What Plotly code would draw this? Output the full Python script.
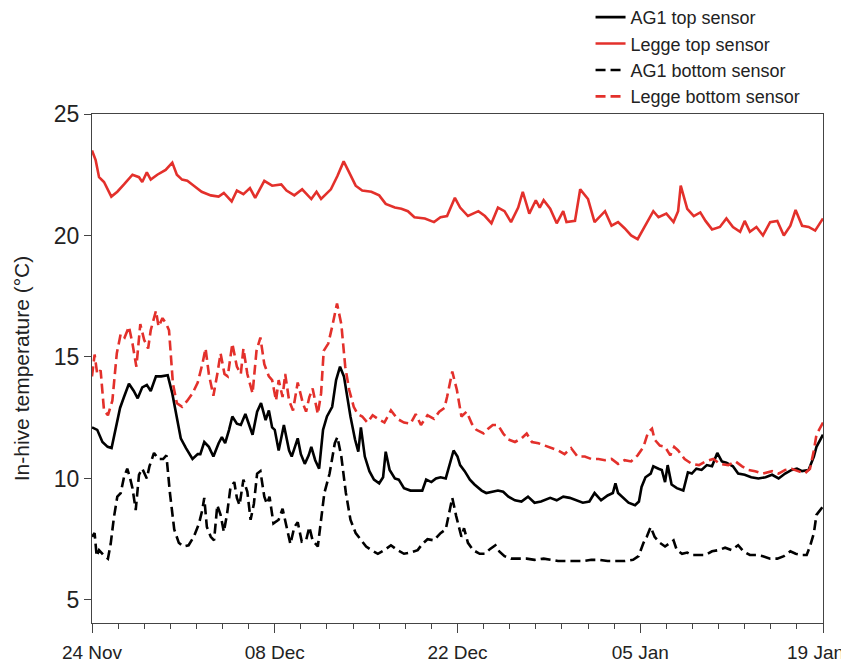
import pandas as pd
import plotly.graph_objects as go

START = "2013-11-24"

# Legge top sensor (red solid)
legge_top_day = [0, 0.28, 0.54, 0.92, 1.48, 1.94, 2.45, 3.1, 3.6, 3.85, 4.2, 4.5, 5.0, 5.64, 6.15, 6.5, 6.9, 7.3, 7.8, 8.4, 9.1, 9.7, 10.1, 10.7, 11.1, 11.6, 12.1, 12.5, 13.2, 13.8,
                 14.5, 14.9, 15.5, 16.1, 16.8, 17.2, 17.55, 18.3, 18.8, 19.28, 19.7, 20.2, 20.7, 21.4, 22.0, 22.5, 23.2, 23.7, 24.2, 24.7, 25.5, 26.2, 26.7, 27.2, 27.8,
                 28.2, 28.8, 29.6, 30.1, 30.6, 31.1, 31.6, 32.1, 32.65, 33.0, 33.5, 34.0, 34.3, 34.6, 35.1, 35.6, 36.1, 36.35, 37.0, 37.4, 38.0, 38.5, 39.3, 39.8, 40.3, 40.8, 41.3, 41.8,
                 42.4, 43.0, 43.4, 44.0, 44.55, 44.9, 45.1, 45.6, 46.1, 46.6, 47.0, 47.5, 48.1, 48.6, 49.1, 49.65, 50.0, 50.4, 50.9, 51.4, 51.95, 52.5, 53.0, 53.5, 53.9, 54.4, 54.9, 55.4, 56.0]
legge_top_val = [23.5, 23.1, 22.4, 22.2, 21.6, 21.8, 22.1, 22.5, 22.4, 22.2, 22.6, 22.3, 22.5, 22.7, 23.0, 22.5, 22.3, 22.25, 22.05, 21.8, 21.65, 21.6, 21.75, 21.4, 21.85, 21.7, 21.95, 21.55, 22.25, 22.05,
                 22.1, 21.85, 21.65, 21.9, 21.5, 21.8, 21.5, 21.9, 22.45, 23.05, 22.6, 22.05, 21.85, 21.8, 21.65, 21.3, 21.15, 21.1, 21.0, 20.75, 20.7, 20.55, 20.75, 20.8, 21.55,
                 21.15, 20.8, 21.0, 20.8, 20.5, 21.15, 21.0, 20.55, 21.15, 21.8, 20.9, 21.45, 21.15, 21.45, 21.1, 20.5, 21.0, 20.55, 20.6, 21.9, 21.5, 20.55, 21.0, 20.4, 20.55, 20.3, 20.0, 19.85,
                 20.4, 21.0, 20.75, 20.9, 20.55, 21.0, 22.05, 21.1, 20.8, 20.95, 20.6, 20.25, 20.35, 20.7, 20.35, 20.15, 20.6, 20.15, 20.35, 20.0, 20.55, 20.6, 20.0, 20.4, 21.05, 20.4, 20.35, 20.2, 20.7]

# Legge bottom sensor (red dashed)
legge_bot_day = [0, 0.2, 0.4, 0.66, 0.92, 1.22, 1.56, 1.9, 2.2, 2.5, 2.83, 3.1, 3.4, 3.7, 4.0, 4.3, 4.5, 4.9, 5.1, 5.4, 5.7, 5.9, 6.2, 6.5, 6.9, 7.3, 7.7, 8.1, 8.45, 8.7, 8.95, 9.3, 9.6, 9.85, 10.15, 10.4, 10.75, 11.1, 11.4, 11.6, 11.9, 12.3, 12.6, 12.9, 13.2, 13.55, 13.8,
                 14.1, 14.3, 14.6, 14.8, 15.1, 15.4, 15.76, 16.15, 16.4, 16.65, 16.9, 17.3, 17.55, 17.75, 18.1, 18.4, 18.77, 19.1, 19.4, 19.7, 20.05, 20.35, 20.7, 21.1, 21.5, 21.9, 22.4, 22.9, 23.4, 23.9, 24.4, 24.8, 25.2, 25.7, 26.2, 26.6, 27.0, 27.2, 27.6, 27.95,
                 28.3, 28.7, 29.1, 29.45, 30.0, 30.35, 30.7, 31.1, 31.5, 31.9, 32.4, 32.9, 33.3, 33.7, 34.2, 34.7, 35.2, 35.7, 36.2, 36.7, 37.2, 37.75, 38.25, 38.8, 39.3, 39.8, 40.3, 40.8, 41.3, 41.8,
                 42.25, 42.6, 42.9, 43.1, 43.5, 43.9, 44.3, 44.6, 44.9, 45.4, 45.95, 46.5, 47.0, 47.6, 48.1, 48.75, 49.3, 49.8, 50.3, 50.8, 51.4, 52.1, 52.6, 53.1, 53.6, 54.1, 54.6, 55.0, 55.3, 55.5, 56.0]
legge_bot_val = [14.2, 15.1, 14.3, 14.45, 12.8, 12.6, 13.2, 15.15, 15.95, 15.8, 16.25, 15.55, 14.6, 16.35, 15.7, 15.35, 16.1, 16.9, 16.25, 16.6, 16.35, 16.1, 13.9, 13.1, 12.95, 13.2, 13.5, 13.95, 14.7, 15.35, 14.3, 13.4, 14.3, 15.15, 14.3, 14.2, 15.55, 14.6, 14.3, 15.35, 14.3, 13.5, 15.25, 15.8, 14.7, 14.2, 14.05,
                 13.2, 14.05, 13.35, 14.3, 13.2, 12.8, 13.95, 13.1, 12.75, 13.35, 13.7, 12.65, 13.5, 15.25, 15.55, 16.25, 17.2, 16.35, 14.6, 13.65, 12.95, 12.65, 12.55, 12.3, 12.6, 12.45, 12.3, 12.8, 12.45, 12.3, 12.25, 12.65, 12.2, 12.6, 12.45, 12.75, 12.9, 13.35, 14.4, 13.65,
                 12.55, 12.75, 12.25, 12.0, 11.85, 12.05, 12.2, 12.2, 11.85, 11.6, 11.5, 11.65, 11.85, 11.5, 11.45, 11.35, 11.25, 11.15, 11.0, 11.25, 10.9, 10.9, 10.8, 10.8, 10.75, 10.8, 10.6, 10.75, 10.7, 10.95,
                 11.3, 11.9, 12.05, 11.6, 11.35, 11.3, 10.95, 11.3, 11.15, 10.8, 10.6, 10.55, 10.7, 10.8, 10.6, 10.55, 10.7, 10.5, 10.35, 10.3, 10.2, 10.3, 10.2, 10.35, 10.4, 10.3, 10.2, 10.4, 11.15, 11.8, 12.3]

# AG1 top sensor (black solid)
ag1_top_day = [0, 0.4, 0.8, 1.2, 1.5, 1.8, 2.15, 2.45, 2.83, 3.2, 3.5, 3.85, 4.2, 4.5, 4.9, 5.3, 5.8, 6.15, 6.5, 6.8, 7.2, 7.7, 8.1, 8.3, 8.6, 8.95, 9.3, 9.7, 9.95, 10.2, 10.5, 10.75, 11.1, 11.4, 11.75, 12.0, 12.3, 12.65, 12.95, 13.3, 13.55, 13.8,
               14.0, 14.3, 14.7, 15.1, 15.3, 15.76, 16.0, 16.3, 16.6, 16.8, 17.1, 17.4, 17.7, 18.0, 18.4, 18.7, 19.0, 19.3, 19.5, 19.8, 20.15, 20.4, 20.6, 20.9, 21.25, 21.6, 22.0, 22.3, 22.5, 22.8, 23.2, 23.5, 23.9, 24.4, 24.95, 25.3, 25.6, 26.0, 26.35, 26.7, 27.1, 27.4, 27.7, 28.0,
               28.2, 28.55, 28.95, 29.3, 29.85, 30.2, 30.6, 31.1, 31.5, 31.9, 32.4, 32.9, 33.4, 33.9, 34.4, 35.1, 35.6, 36.1, 36.6, 37.1, 37.6, 38.1, 38.5, 39.0, 39.5, 39.9, 40.1, 40.3, 40.7, 41.1, 41.6,
               41.9, 42.1, 42.4, 42.8, 43.0, 43.4, 43.65, 43.9, 44.1, 44.4, 44.8, 45.3, 45.65, 45.95, 46.3, 46.7, 47.1, 47.5, 47.9, 48.25, 48.6, 49.1, 49.5, 50.0, 50.5, 51.05, 51.6, 52.1, 52.6, 53.1, 53.6, 54.0, 54.4, 54.9, 55.3, 55.5, 56.0]
ag1_top_val = [12.1, 12.0, 11.5, 11.3, 11.25, 12.0, 12.9, 13.35, 13.9, 13.6, 13.3, 13.75, 13.85, 13.6, 14.2, 14.2, 14.25, 13.5, 12.55, 11.65, 11.25, 10.8, 11.0, 11.0, 11.5, 11.3, 10.9, 11.45, 11.7, 11.45, 12.0, 12.55, 12.25, 12.2, 12.65, 12.25, 11.8, 12.75, 13.1, 12.4, 12.8, 12.1,
               12.0, 11.15, 12.2, 11.15, 10.9, 11.65, 11.0, 10.6, 10.95, 11.3, 10.75, 10.4, 12.0, 12.55, 12.95, 14.05, 14.6, 14.2, 13.5, 12.55, 11.6, 11.1, 12.1, 10.9, 10.3, 9.95, 9.8, 10.05, 11.1, 10.35, 10.0, 9.95, 9.6, 9.5, 9.5, 9.5, 9.95, 9.85, 10.0, 10.05, 10.0, 10.6, 11.15, 10.9,
               10.55, 10.3, 9.95, 9.75, 9.5, 9.4, 9.45, 9.5, 9.45, 9.25, 9.1, 9.05, 9.25, 9.0, 9.05, 9.2, 9.1, 9.25, 9.2, 9.1, 9.0, 9.05, 9.4, 9.1, 9.3, 9.4, 9.8, 9.4, 9.2, 9.0, 8.9,
               9.05, 9.65, 10.05, 10.2, 10.5, 10.4, 10.35, 9.85, 10.55, 9.75, 9.6, 9.5, 10.25, 10.2, 10.4, 10.35, 10.55, 10.5, 11.05, 10.7, 10.65, 10.5, 10.2, 10.15, 10.05, 10.0, 10.05, 10.15, 10.0, 10.2, 10.35, 10.4, 10.3, 10.35, 10.9, 11.3, 11.8]

# AG1 bottom sensor (black dashed)
ag1_bot_day = [0, 0.2, 0.36, 0.54, 0.87, 1.22, 1.43, 1.68, 1.94, 2.2, 2.45, 2.7, 2.9, 3.1, 3.35, 3.6, 3.85, 4.2, 4.4, 4.75, 5.1, 5.45, 5.7, 5.97, 6.3, 6.65, 7.0, 7.4, 7.8, 8.2, 8.45, 8.6, 8.8, 9.1, 9.35, 9.6, 9.85, 10.1, 10.35, 10.6, 10.9, 11.1, 11.3, 11.6, 11.9, 12.15, 12.4, 12.65, 12.9, 13.2, 13.4, 13.6, 13.9,
               14.3, 14.6, 14.9, 15.2, 15.5, 15.76, 16.07, 16.4, 16.65, 16.9, 17.3, 17.55, 17.8, 18.2, 18.6, 18.8, 19.1, 19.45, 19.8, 20.2, 20.6, 21.0, 21.4, 21.9, 22.4, 22.9, 23.4, 23.9, 24.4, 24.95, 25.3, 25.7, 26.2, 26.7, 27.1, 27.4, 27.6, 27.9,
               28.05, 28.3, 28.5, 28.8, 29.2, 29.7, 30.1, 30.5, 30.9, 31.2, 31.6, 32.1, 32.65, 33.3, 33.9, 34.6, 35.2, 35.7, 36.35, 37.0, 37.6, 38.25, 38.9, 39.5, 40.2, 40.8, 41.45, 41.87,
               42.25, 42.5, 42.8, 43.1, 43.5, 43.9, 44.3, 44.55, 44.8, 45.2, 45.6, 45.95, 46.5, 47.0, 47.5, 48.0, 48.5, 49.0, 49.5, 49.9, 50.4, 50.9, 51.4, 51.95, 52.5, 53.0, 53.5, 53.9, 54.4, 54.75, 55.0, 55.3, 55.5, 56.0]
ag1_bot_val = [7.6, 7.75, 6.8, 7.05, 6.85, 6.7, 7.3, 8.4, 9.25, 9.4, 10.05, 10.4, 10.05, 9.6, 8.7, 10.15, 10.4, 10.0, 10.5, 11.05, 10.8, 10.8, 10.95, 9.4, 7.9, 7.35, 7.2, 7.25, 7.6, 8.15, 8.7, 9.2, 8.0, 7.6, 7.45, 8.9, 8.5, 7.8, 8.55, 9.6, 9.85, 9.2, 8.9, 9.95, 9.45, 8.3, 8.95, 10.2, 10.3, 9.25, 8.95, 9.25, 8.15,
               8.3, 8.75, 8.0, 7.3, 8.0, 8.2, 7.4, 7.45, 8.0, 7.45, 7.2, 8.3, 9.4, 10.2, 11.45, 11.7, 10.9, 9.4, 8.3, 7.75, 7.45, 7.2, 7.05, 6.9, 7.05, 7.25, 7.05, 6.9, 6.95, 7.05, 7.3, 7.5, 7.45, 7.75, 7.9, 8.7, 9.2, 8.45,
               8.15, 7.6, 7.95, 7.35, 7.05, 6.9, 6.9, 7.1, 7.25, 7.0, 6.8, 6.7, 6.7, 6.7, 6.65, 6.7, 6.65, 6.6, 6.6, 6.6, 6.6, 6.65, 6.65, 6.6, 6.6, 6.6, 6.65, 6.8,
               7.35, 7.6, 8.0, 7.6, 7.35, 7.2, 7.35, 7.45, 7.05, 6.9, 6.95, 6.85, 6.85, 6.85, 7.0, 7.05, 7.15, 7.05, 7.25, 7.0, 6.85, 6.85, 6.8, 6.7, 6.7, 6.8, 7.0, 6.9, 6.85, 6.85, 7.2, 7.75, 8.5, 8.85]

X_TICK_DAYS = [0, 14, 28, 42, 56]
X_TICK_LABELS = ["24 Nov", "08 Dec", "22 Dec", "05 Jan", "19 Jan"]
Y_TICKS = [5, 10, 15, 20, 25]

RED = "#E3302B"
BLACK = "#000000"
FONT = "Arial, Liberation Sans, sans-serif"


def to_dates(days):
    return pd.Timestamp(START) + pd.to_timedelta(days, unit="D")


fig = go.Figure()
series = [
    ("AG1 top sensor", ag1_top_day, ag1_top_val, BLACK, "solid"),
    ("Legge top sensor", legge_top_day, legge_top_val, RED, "solid"),
    ("AG1 bottom sensor", ag1_bot_day, ag1_bot_val, BLACK, "10px,5px"),
    ("Legge bottom sensor", legge_bot_day, legge_bot_val, RED, "10px,5px"),
]
for name, d, v, c, dash in series:
    fig.add_trace(go.Scatter(x=to_dates(d), y=v, mode="lines", name=name,
                             line=dict(color=c, width=2.6, dash=dash)))

x0 = pd.Timestamp(START)
x1 = x0 + pd.Timedelta(days=56)
DAY_MS = 86400000

tick_dates = list(to_dates(X_TICK_DAYS))
# the last label sits at the right edge; it is drawn nudged left so it stays inside the page
tick_text = X_TICK_LABELS[:-1] + [""]

fig.add_annotation(x=tick_dates[-1], y=0, xref="x", yref="paper",
                   text=X_TICK_LABELS[-1], showarrow=False,
                   xanchor="center", yanchor="top", xshift=-8, yshift=-17,
                   font=dict(size=19, color="#222", family=FONT))

fig.update_layout(
    width=849, height=666,
    margin=dict(l=84, r=34, t=106, b=51, autoexpand=False),
    paper_bgcolor="white", plot_bgcolor="white",
    font=dict(family=FONT, size=18, color="#222"),
    showlegend=True,
    legend=dict(x=0.682, y=1.226, xanchor="left", yanchor="top",
                bgcolor="rgba(0,0,0,0)", font=dict(size=18, color="#222"),
                tracegroupgap=0, itemwidth=30),
    xaxis=dict(type="date", range=[x0, x1],
               tickvals=tick_dates, ticktext=tick_text,
               ticks="outside", ticklen=9, tickcolor="#444", automargin=False,
               ticklabelstandoff=3,
               showline=True, linecolor="#444", linewidth=1, mirror=True,
               showgrid=False, zeroline=False, tickfont=dict(size=19, color="#222"),
               minor=dict(tick0=x0, dtick=2 * DAY_MS, ticks="outside", ticklen=5, tickcolor="#444", showgrid=False)),
    yaxis=dict(range=[4.05, 25], tickvals=Y_TICKS, ticks="outside", ticklen=7, tickcolor="#444",
               showline=True, linecolor="#444", linewidth=1, mirror=True, automargin=False,
               showgrid=False, zeroline=False, tickfont=dict(size=23, color="#222"),
               title=dict(text="In-hive temperature (°C)", font=dict(size=21, color="#222"), standoff=18)),
)

fig.write_html("out.html")
